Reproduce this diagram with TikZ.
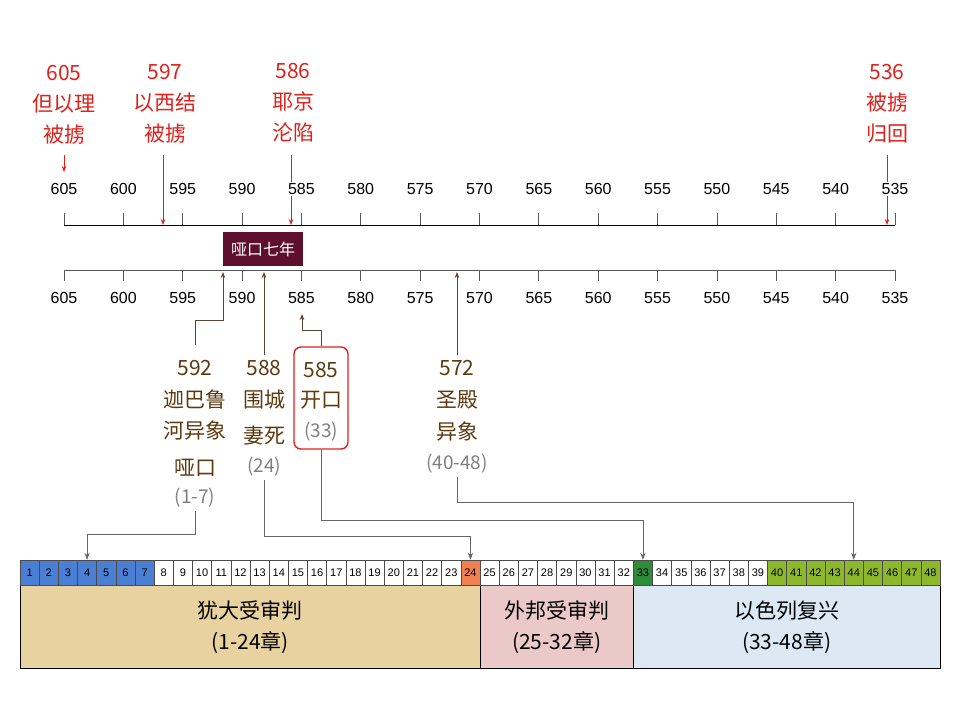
\documentclass[tikz,border=0pt]{standalone}
\usepackage{fontspec}
\setmainfont{Liberation Sans}
\newfontfamily\cjk{Noto Sans CJK SC}
\usetikzlibrary{arrows.meta}
\definecolor{myred}{HTML}{E0201A}
\definecolor{mybrown}{HTML}{5C3A10}
\definecolor{conn}{HTML}{5A4630}
\definecolor{maroon}{HTML}{5E0F2E}
\definecolor{cblue}{HTML}{4A7FD4}
\definecolor{corange}{HTML}{F08050}
\definecolor{cgreen}{HTML}{2E8B3A}
\definecolor{clime}{HTML}{8DB82C}
\definecolor{tan}{HTML}{E8D3A0}
\definecolor{pinkbg}{HTML}{EBC9C9}
\definecolor{bluebg}{HTML}{DCE9F5}
\begin{document}
\begin{tikzpicture}[x=1pt,y=-1pt,
  yr/.style={font=\fontsize{16}{16}\selectfont, fill=white, inner sep=1pt},
  redt/.style={text=myred, font=\fontsize{21}{31}\selectfont\cjk, align=center},
  brt/.style={text=mybrown, font=\fontsize{21}{21}\selectfont\cjk},
  grt/.style={text=gray, font=\fontsize{19}{19}\selectfont\cjk},
  redarr/.style={myred, thick, -{Stealth[length=6pt]}},
  brarr/.style={conn, thick, -{Stealth[length=6pt]}},
  grarr/.style={gray!80!black, thick, -{Stealth[length=7pt]}},
  cell/.style={draw=black!70, minimum width=19.17pt, minimum height=25pt, inner sep=0pt, font=\fontsize{11}{11}\selectfont},
  sect/.style={draw=black, inner sep=0pt, minimum height=83pt, anchor=north west}]
\useasboundingbox (0,0) rectangle (960,720);
% axes
\draw[thick] (64,225) -- (895,225);
\draw[thick, gray!70!black] (64,270) -- (895,270);
\foreach \i in {0,...,14}{
  \pgfmathsetmacro\xx{64+\i*59.357}
  \draw[thick, gray!70!black] (\xx,213) -- (\xx,225);
  \draw[thick, gray!70!black] (\xx,270) -- (\xx,281);
}
% red events
\node[redt] (e605) at (64,105) {605\\但以理\\被掳};
\node[redt] (e597) at (165,104) {597\\以西结\\被掳};
\node[redt] (e586) at (293,103) {586\\耶京\\沦陷};
\node[redt] (e536) at (887,104) {536\\被掳\\归回};
\coordinate (t605) at (64,172);
\coordinate (t597) at (163,225);
\coordinate (t586) at (291,225);
\coordinate (t536) at (887,225);
\draw[redarr] (64,155) -- (t605);
\draw[redarr] (163,155) -- (t597);
\draw[redarr] (291,155) -- (t586);
\draw[redarr] (887,155) -- (t536);
\foreach \i in {0,...,14}{
  \pgfmathsetmacro\xx{64+\i*59.357}
  \pgfmathtruncatemacro\yy{605-5*\i}
  \node[yr] (ta\i) at (\xx,189) {\yy};
  \node[yr] (ba\i) at (\xx,298) {\yy};
}
% box
\node[fill=maroon, text=white, minimum width=80pt, minimum height=34pt, inner sep=0pt, font=\fontsize{16}{16}\selectfont\cjk] (mute) at (263,249) {哑口七年};
% brown events
\node[brt] (a1) at (195,368) {592};
\node[brt] (a2) at (195,400) {迦巴鲁};
\node[brt] (a3) at (195,431) {河异象};
\node[brt] (a4) at (195,468) {哑口};
\node[grt] (a5) at (195,498) {(1-7)};
\node[brt] (b1) at (264,368) {588};
\node[brt] (b2) at (264,400) {围城};
\node[brt] (b3) at (264,436) {妻死};
\node[grt] (b4) at (264,467) {(24)};
\node[draw=myred, line width=1.4pt, rounded corners=7pt, minimum width=54pt, minimum height=102pt] (rb) at (321,398) {};
\node[brt] (c1) at (321,370) {585};
\node[brt] (c2) at (321,400) {开口};
\node[grt] (c3) at (321,432) {(33)};
\node[brt] (d1) at (457,368) {572};
\node[brt] (d2) at (457,400) {圣殿};
\node[brt] (d3) at (457,432) {异象};
\node[grt] (d4) at (457,464) {(40-48)};
\coordinate (u592) at (223,272);
\coordinate (u588) at (264,272);
\coordinate (u585) at (302,314);
\coordinate (u572) at (457,272);
\draw[brarr] (195,345) |- (223,320) -- (u592);
\draw[brarr] (264,355) -- (u588);
\draw[brarr] (rb.north) |- (302,330) -- (u585);
\draw[brarr] (457,355) -- (u572);
% chapter strip
\node[sect, fill=tan, minimum width=460pt] (s1) at (20,585) {};
\node[sect, fill=pinkbg, minimum width=153pt] (s2) at (480,585) {};
\node[sect, fill=bluebg, minimum width=307pt] (s3) at (633,585) {};
\node[font=\fontsize{21}{31}\selectfont\cjk, align=center] (l1) at (s1.center) {犹大受审判\\(1-24章)};
\node[font=\fontsize{21}{31}\selectfont\cjk, align=center] (l2) at (s2.center) {外邦受审判\\(25-32章)};
\node[font=\fontsize{21}{31}\selectfont\cjk, align=center] (l3) at (s3.center) {以色列复兴\\(33-48章)};
\foreach \n in {1,...,48}{
  \pgfmathsetmacro\xx{20+(\n-0.5)*19.1667}
  \ifnum\n<8 \def\cc{cblue}\else\ifnum\n=24 \def\cc{corange}\else\ifnum\n=33 \def\cc{cgreen}\else\ifnum\n>39 \def\cc{clime}\else\def\cc{white}\fi\fi\fi\fi
  \node[cell, fill=\cc] (ch\n) at (\xx,572.5) {\n};
}
\draw[grarr] (a5.south) -- ++(0,23) -| (ch4.north);
\draw[grarr] (b4.south) -- ++(0,56) -| (ch24.north);
\draw[grarr] (rb.south) -- ++(0,71) -| (ch33.north);
\draw[grarr] (d4.south) -- ++(0,25) -| (ch44.north);
\end{tikzpicture}
\end{document}
